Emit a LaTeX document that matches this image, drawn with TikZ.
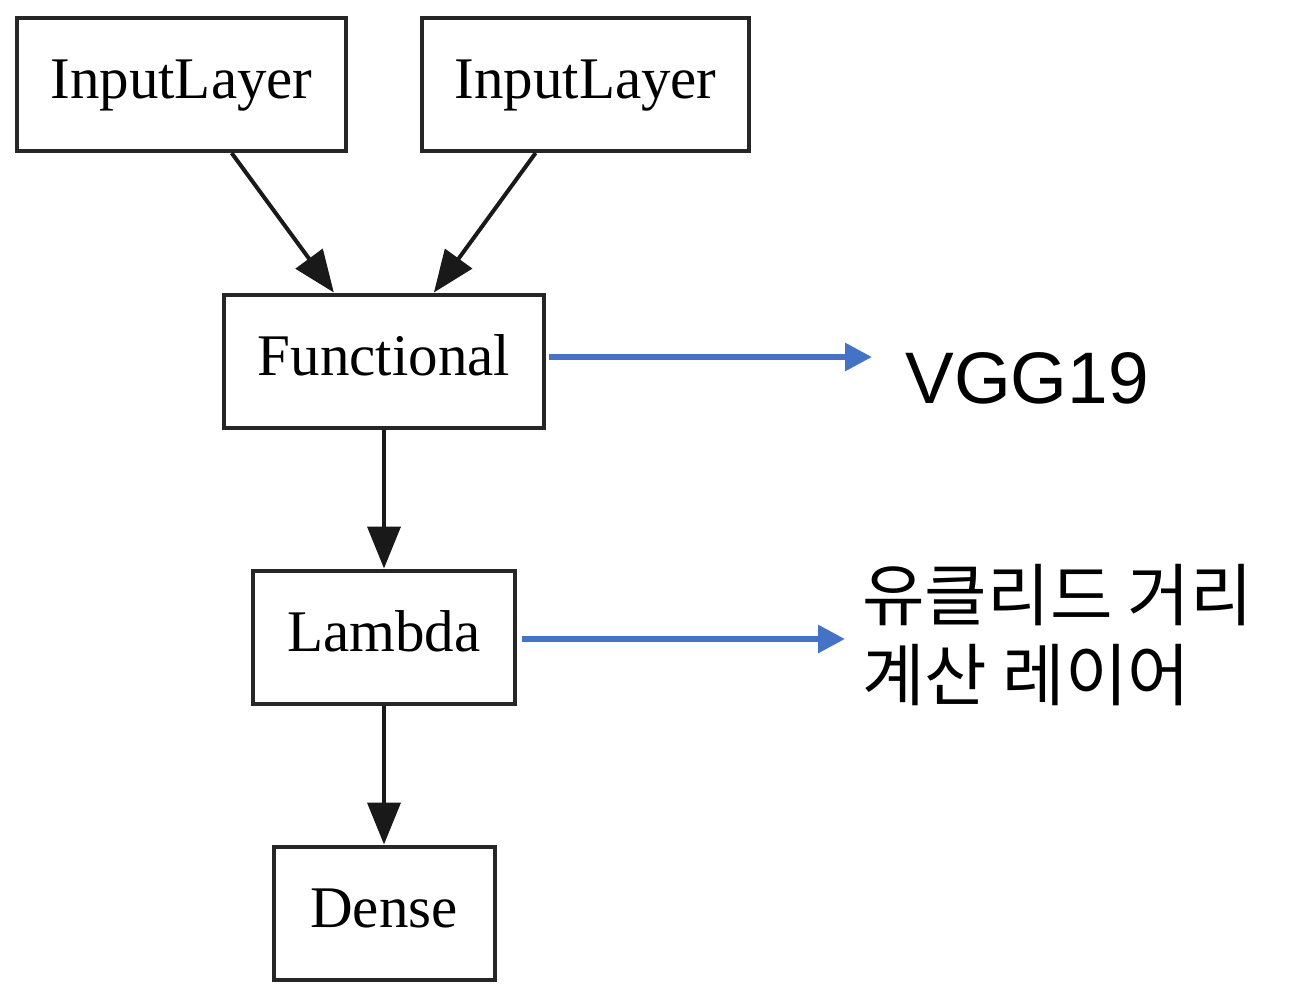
\documentclass[tikz,border=0pt]{standalone}
\usepackage{fontspec}
\setmainfont{Liberation Serif}
\newfontfamily\latinsans{Liberation Sans}
\newfontfamily\kofont{Noto Sans CJK KR}
\usetikzlibrary{arrows.meta}
\definecolor{linkblue}{HTML}{4472C4}

\begin{document}
\begin{tikzpicture}[x=0.5pt, y=-0.5pt,
    layer/.style={rectangle, draw=black!85, line width=2pt, minimum height=66.5pt, inner sep=0pt, font=\fontsize{29.5}{34}\selectfont, text height=19pt, text depth=5pt},
    flow/.style={-{Triangle[length=21pt, width=16.5pt]}, line width=2pt, black!90},
    note/.style={-{Triangle[length=13.5pt, width=13.5pt]}, line width=3pt, linkblue}
]
\useasboundingbox (0,0) rectangle (1308,998);

% Layer boxes
\node[layer, minimum width=164.5pt] (in1) at (181.5,84.5) {InputLayer};
\node[layer, minimum width=163.5pt] (in2) at (585.5,84.5) {InputLayer};
\node[layer, minimum width=160pt] (func) at (384,361) {Functional};
\node[layer, minimum width=131pt] (lam) at (384,637) {Lambda};
\node[layer, minimum width=110.5pt] (dense) at (384,913) {Dense};

% Graph edges
\draw[flow] (in1) -- (func);
\draw[flow] (in2) -- (func);
\draw[flow] (func) -- (lam);
\draw[flow] (lam) -- (dense);

% Notes
\node[anchor=base west, inner sep=0pt, font=\latinsans\fontsize{36.5}{40}\selectfont] (vgg) at (905,403) {VGG19};
\node[anchor=base west, inner sep=0pt, align=left, font=\kofont\fontsize{34}{40}\selectfont] (dist) at (862,700) {유클리드 거리\\계산 레이어};

\coordinate (vggtip) at (872,357);
\coordinate (disttip) at (845,639);
\draw[note, shorten <=1.5pt] ([yshift=2pt]func.east) -- (vggtip);
\draw[note, shorten <=2.5pt] ([yshift=-1pt]lam.east) -- (disttip);

\end{tikzpicture}
\end{document}
